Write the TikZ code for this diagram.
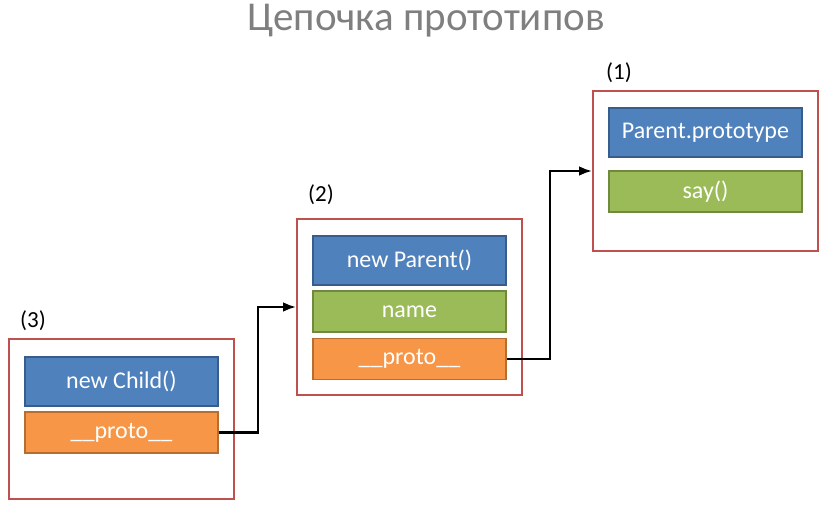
\documentclass[tikz,border=0pt]{standalone}
\usepackage{fontspec}
\setmainfont{Carlito}
\usetikzlibrary{positioning,arrows.meta,calc}

\definecolor{slotblue}{HTML}{4F81BD}
\definecolor{slotblueline}{HTML}{385D8A}
\definecolor{slotgreen}{HTML}{9BBB59}
\definecolor{slotgreenline}{HTML}{71893F}
\definecolor{slotorange}{HTML}{F79646}
\definecolor{slotorangeline}{HTML}{B66D31}
\definecolor{framered}{HTML}{C0504D}
\definecolor{titlegray}{HTML}{7F7F7F}

\tikzset{
  frame/.style={draw=framered, line width=2pt, minimum width=225pt, inner sep=0pt},
  slot/.style={line width=1.5pt, minimum width=193pt, text=white, inner sep=0pt,
    font=\fontsize{24}{28}\selectfont},
  objslot/.style={slot, fill=slotblue, draw=slotblueline, minimum height=49pt},
  propslot/.style={slot, fill=slotgreen, draw=slotgreenline, minimum height=41pt},
  protoslot/.style={slot, fill=slotorange, draw=slotorangeline, minimum height=41pt},
  num/.style={font=\fontsize{23}{27}\selectfont}
}

\begin{document}
\begin{tikzpicture}[x=1pt, y=-1pt, >=Latex]
  \useasboundingbox (0,0) rectangle (831,519);

  \node[text=titlegray, font=\fontsize{41}{48}\selectfont] (title) at (426,21) {Цепочка прототипов};

  % (1)
  \node[frame, minimum height=160pt] (F1) at (705.5,171) {};
  \node[objslot] (P1) at (705.5,132.5) {Parent.prototype};
  \node[propslot] (S1) at (705.5,191.5) {say()};
  \node[num] (N1) at (619,73) {(1)};

  % (2)
  \node[frame, minimum height=176pt] (F2) at (409.5,307) {};
  \node[objslot] (P2) at (409.5,260.5) {new Parent()};
  \node[propslot] (S2) at (409.5,311.5) {name};
  \node[protoslot] (R2) at (409.5,359) {\_\_proto\_\_};
  \node[num] (N2) at (321,195) {(2)};

  % (3)
  \node[frame, minimum height=160pt] (F3) at (121.5,419) {};
  \node[objslot] (P3) at (121.5,381.5) {new Child()};
  \node[protoslot] (R3) at (121.5,432.5) {\_\_proto\_\_};
  \node[num] (N3) at (33,321) {(3)};

  \draw[->, line width=2.2pt] (R3.east) -- ++(39,0) |- (F2.west);
  \draw[->, line width=2.2pt] (R2.east) -- ++(43,0) |- (F1.west);
\end{tikzpicture}
\end{document}
